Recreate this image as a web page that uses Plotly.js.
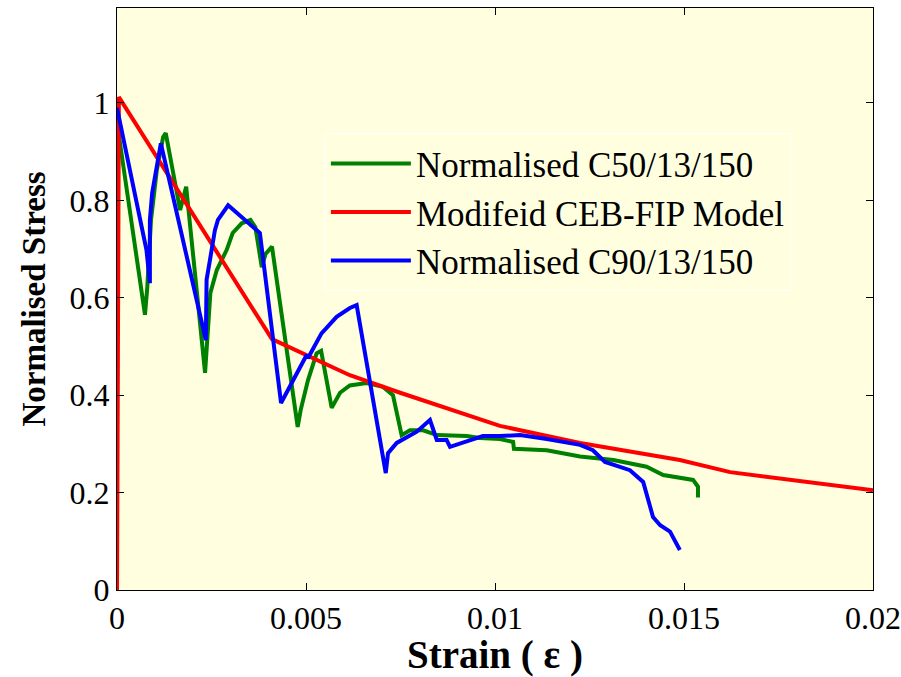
<!DOCTYPE html>
<html>
<head>
<meta charset="utf-8">
<script src="https://cdn.plot.ly/plotly-3.0.1.min.js"></script>
<style>html,body{margin:0;padding:0;background:#fff}#chart{width:901px;height:677px}</style>
</head>
<body>
<div id="chart"></div>
<script>
// Normalised C50/13/150 (green)
const c50Strain = [0, 0.00074, 0.00080, 0.00090, 0.00105, 0.00122, 0.00129, 0.00167, 0.00183, 0.00233,
  0.00247, 0.00264, 0.00290, 0.00306, 0.00330, 0.00353, 0.00366, 0.00383, 0.00393, 0.00410, 0.00478,
  0.00486, 0.00505, 0.00528, 0.00540, 0.00568, 0.00590, 0.00616, 0.00660, 0.00704, 0.00730, 0.00753,
  0.00775, 0.00810, 0.00846, 0.00925, 0.00960, 0.01013, 0.01048, 0.01050, 0.01137, 0.01225, 0.01313,
  0.01401, 0.01445, 0.01524, 0.01537, 0.01537];
const c50Stress = [0.96, 0.565, 0.62, 0.76, 0.86, 0.93, 0.938, 0.78, 0.828, 0.446,
  0.61, 0.657, 0.698, 0.733, 0.753, 0.76, 0.745, 0.663, 0.69, 0.705, 0.335,
  0.37, 0.43, 0.486, 0.491, 0.374, 0.405, 0.42, 0.425, 0.417, 0.40, 0.318,
  0.328, 0.328, 0.318, 0.316, 0.312, 0.31, 0.304, 0.29, 0.287, 0.274, 0.267,
  0.253, 0.236, 0.226, 0.212, 0.19];

// Modified CEB-FIP Model (red)
const cebStrain = [0, 0.00003, 0.00005, 0.0041, 0.00616, 0.00749, 0.00881, 0.01013, 0.01225, 0.01489, 0.01622, 0.02];
const cebStress = [0, 0.66, 1.012, 0.515, 0.441, 0.405, 0.370, 0.337, 0.302, 0.267, 0.242, 0.205];

// Normalised C90/13/150 (blue)
const c90Strain = [0, 0.00078, 0.00087, 0.00087, 0.00093, 0.00100, 0.00110, 0.00116, 0.00235,
  0.00237, 0.00246, 0.00259, 0.00267, 0.00280, 0.00294, 0.00378, 0.00434, 0.00502, 0.00505, 0.00541,
  0.00581, 0.00616, 0.00634, 0.00711, 0.00717, 0.00740, 0.00793, 0.00828, 0.00846, 0.00872, 0.00881,
  0.00925, 0.00968, 0.01013, 0.01066, 0.01137, 0.01225, 0.01259, 0.01291, 0.01357, 0.01392, 0.01418,
  0.01437, 0.01463, 0.01481, 0.01489];
const c90Stress = [0.99, 0.698, 0.63, 0.76, 0.815, 0.848, 0.885, 0.917, 0.513,
  0.637, 0.678, 0.739, 0.76, 0.774, 0.79, 0.733, 0.384, 0.483, 0.476, 0.527,
  0.561, 0.579, 0.585, 0.24, 0.281, 0.302, 0.325, 0.349, 0.308, 0.308, 0.294,
  0.305, 0.316, 0.316, 0.318, 0.31, 0.298, 0.287, 0.263, 0.246, 0.222, 0.15,
  0.133, 0.12, 0.096, 0.082];

const xTicks = [0, 0.005, 0.01, 0.015, 0.02];
const xTickText = ['0', '0.005', '0.01', '0.015', '0.02'];
const yTicks = [0, 0.2, 0.4, 0.6, 0.8, 1];
const yTickText = ['0', '0.2', '0.4', '0.6', '0.8', '1'];

const serif = 'Liberation Serif, Times New Roman, serif';

const traces = [
  {x: c50Strain, y: c50Stress, mode: 'lines', name: 'Normalised C50/13/150',
   line: {color: '#008000', width: 4}},
  {x: cebStrain, y: cebStress, mode: 'lines', name: 'Modifeid CEB-FIP Model',
   line: {color: '#ff0000', width: 4}},
  {x: c90Strain, y: c90Stress, mode: 'lines', name: 'Normalised C90/13/150',
   line: {color: '#0000ff', width: 4}}
];

const layout = {
  width: 901, height: 677,
  margin: {l: 117, r: 28, t: 8, b: 87},
  paper_bgcolor: '#ffffff',
  plot_bgcolor: '#ffffe0',
  font: {family: serif, color: '#000', size: 32},
  showlegend: true,
  legend: {
    x: 0.275, y: 0.785, xanchor: 'left', yanchor: 'top',
    bgcolor: '#ffffe0', bordercolor: '#ffffff', borderwidth: 1,
    font: {family: serif, size: 35, color: '#000'},
    itemwidth: 80, tracegroupgap: 0,
    entrywidth: 420, entrywidthmode: 'pixels'
  },
  xaxis: {
    range: [0, 0.02], tickvals: xTicks, ticktext: xTickText,
    showgrid: false, zeroline: false, showline: true, linecolor: '#000', linewidth: 1,
    mirror: 'ticks', ticks: 'inside', ticklen: 7, tickcolor: '#000',
    ticklabeloverflow: 'allow',
    tickfont: {family: serif, size: 32},
    title: {text: '<b>Strain ( ε )</b>', font: {family: serif, size: 39}, standoff: 2}
  },
  yaxis: {
    range: [0, 1.195], tickvals: yTicks, ticktext: yTickText,
    showgrid: false, zeroline: false, showline: true, linecolor: '#000', linewidth: 1,
    mirror: 'ticks', ticks: 'inside', ticklen: 7, tickcolor: '#000',
    tickfont: {family: serif, size: 32},
    title: {text: '<b>Normalised Stress</b>', font: {family: serif, size: 33}, standoff: 14}
  }
};

Plotly.newPlot('chart', traces, layout, {displayModeBar: false, staticPlot: true});
</script>
</body>
</html>
